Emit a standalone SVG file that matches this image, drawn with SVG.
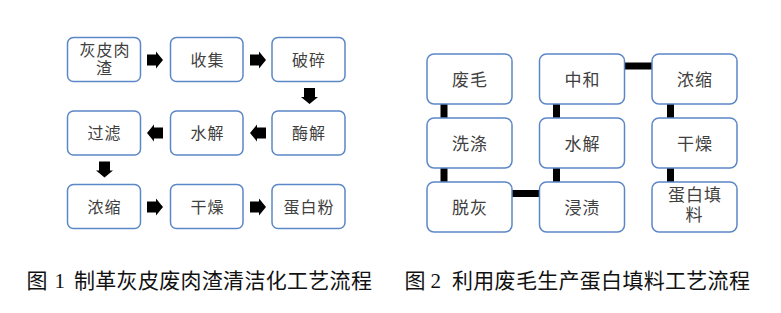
<svg xmlns="http://www.w3.org/2000/svg" xmlns:xlink="http://www.w3.org/1999/xlink" width="781" height="313" viewBox="0 0 781 313">
<style>
.box{fill:#ffffff;stroke:#5b87c6;stroke-width:1.5}
.t1{font-family:"Liberation Sans","Noto Sans CJK SC","Noto Sans CJK JP",sans-serif;font-size:16px;fill:#404040;text-anchor:middle;letter-spacing:1px}
.t2{font-family:"Liberation Sans","Noto Sans CJK SC","Noto Sans CJK JP",sans-serif;font-size:17px;fill:#404040;text-anchor:middle;letter-spacing:1px}
.arr{fill:#000000}
.con{stroke:#000000;stroke-width:7;fill:none}
.cap{font-family:"Noto Sans CJK SC","Noto Sans CJK JP",sans-serif;font-size:21px;fill:#111111}
.num{font-family:"Liberation Serif","Times New Roman",serif;font-size:21px;fill:#111111}
</style>
<defs>
<path id="ar" d="M0,-5.5 H9 V-8.5 L16,0 L9,8.5 V5.5 H0 Z"/>
</defs>
<rect width="781" height="313" fill="#ffffff"/>

<!-- Figure 1 -->
<g id="f1-n1"><rect class="box" x="67.5" y="37.5" width="73" height="44" rx="6"/><text class="t1" y="55.5"><tspan x="105">灰皮肉</tspan><tspan x="104.5" dy="18">渣</tspan></text></g>
<g id="f1-n2"><rect class="box" x="170.5" y="37.5" width="72.5" height="44" rx="6"/><text class="t1" x="207.5" y="65.5">收集</text></g>
<g id="f1-n3"><rect class="box" x="272" y="37.5" width="73" height="44" rx="6"/><text class="t1" x="309" y="65.5">破碎</text></g>
<g id="f1-n4"><rect class="box" x="272" y="111" width="73" height="44" rx="6"/><text class="t1" x="309" y="139">酶解</text></g>
<g id="f1-n5"><rect class="box" x="170.5" y="111" width="72.5" height="44" rx="6"/><text class="t1" x="207.5" y="139">水解</text></g>
<g id="f1-n6"><rect class="box" x="67.5" y="111" width="73" height="44" rx="6"/><text class="t1" x="104.5" y="139">过滤</text></g>
<g id="f1-n7"><rect class="box" x="67.5" y="184.5" width="73" height="44" rx="6"/><text class="t1" x="104.5" y="212.5">浓缩</text></g>
<g id="f1-n8"><rect class="box" x="170.5" y="184.5" width="72.5" height="44" rx="6"/><text class="t1" x="207.5" y="212.5">干燥</text></g>
<g id="f1-n9"><rect class="box" x="272" y="184.5" width="73" height="44" rx="6"/><text class="t1" x="309" y="212.5">蛋白粉</text></g>

<g id="f1-arrows" class="arr">
<use xlink:href="#ar" href="#ar" transform="translate(147,60)"/>
<use xlink:href="#ar" href="#ar" transform="translate(250,60)"/>
<use xlink:href="#ar" href="#ar" transform="translate(309.5,88) rotate(90)"/>
<use xlink:href="#ar" href="#ar" transform="translate(266,133) rotate(180)"/>
<use xlink:href="#ar" href="#ar" transform="translate(163,133) rotate(180)"/>
<use xlink:href="#ar" href="#ar" transform="translate(104.5,161.5) rotate(90)"/>
<use xlink:href="#ar" href="#ar" transform="translate(147,207)"/>
<use xlink:href="#ar" href="#ar" transform="translate(250,207)"/>
</g>

<!-- Figure 2 -->
<g id="f2-connectors" class="con">
<line x1="444" y1="104" x2="444" y2="118"/>
<line x1="444" y1="168" x2="444" y2="182"/>
<line x1="556.5" y1="104" x2="556.5" y2="118"/>
<line x1="556.5" y1="168" x2="556.5" y2="182"/>
<line x1="670.5" y1="104" x2="670.5" y2="118"/>
<line x1="670.5" y1="168" x2="670.5" y2="182"/>
<line x1="624.5" y1="66" x2="652" y2="66"/>
<line x1="512" y1="193.5" x2="539.5" y2="193.5"/>
</g>
<g id="f2-n1"><rect class="box" x="427" y="54" width="85" height="50" rx="7"/><text class="t2" x="470" y="85.5">废毛</text></g>
<g id="f2-n2"><rect class="box" x="427" y="118" width="85" height="50" rx="7"/><text class="t2" x="470" y="149.5">洗涤</text></g>
<g id="f2-n3"><rect class="box" x="427" y="182" width="85" height="50" rx="7"/><text class="t2" x="470" y="213.5">脱灰</text></g>
<g id="f2-n4"><rect class="box" x="539.5" y="182" width="85" height="50" rx="7"/><text class="t2" x="582.5" y="213.5">浸渍</text></g>
<g id="f2-n5"><rect class="box" x="539.5" y="118" width="85" height="50" rx="7"/><text class="t2" x="582.5" y="149.5">水解</text></g>
<g id="f2-n6"><rect class="box" x="539.5" y="54" width="85" height="50" rx="7"/><text class="t2" x="582.5" y="85.5">中和</text></g>
<g id="f2-n7"><rect class="box" x="652" y="54" width="85" height="50" rx="7"/><text class="t2" x="695" y="85.5">浓缩</text></g>
<g id="f2-n8"><rect class="box" x="652" y="118" width="85" height="50" rx="7"/><text class="t2" x="695" y="149.5">干燥</text></g>
<g id="f2-n9"><rect class="box" x="652" y="182" width="85" height="50" rx="7"/><text class="t2" y="201"><tspan x="695">蛋白填</tspan><tspan x="694.5" dy="20">料</tspan></text></g>

<!-- Captions -->
<text class="cap" y="288"><tspan x="26.5">图</tspan><tspan class="num" x="54.5">1</tspan><tspan x="74" letter-spacing="0.3">制革灰皮废肉渣清洁化工艺流程</tspan></text>
<text class="cap" y="288"><tspan x="404.5">图</tspan><tspan class="num" x="430.5">2</tspan><tspan x="452" letter-spacing="0.3">利用废毛生产蛋白填料工艺流程</tspan></text>
</svg>
